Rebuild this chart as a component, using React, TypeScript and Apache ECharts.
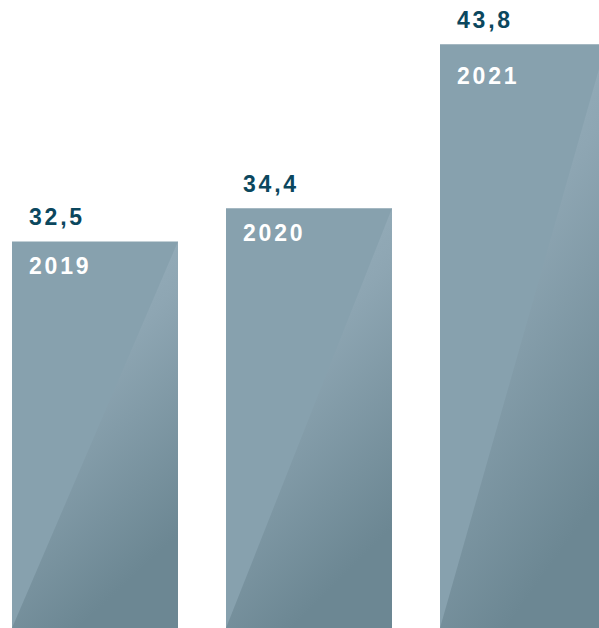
import React, { useEffect, useRef } from "react";
import * as echarts from "echarts";

const years = ["2019", "2020", "2021"];
const values = [32.5, 34.4, 43.8];
const valueLabels = ["32,5", "34,4", "43,8"];

const Y_MIN = 10.34;
const Y_MAX = 46.34;
const yearLabelOffset = [24.5, 25, 31.5];

export default function App() {
  const ref = useRef<HTMLDivElement>(null);

  useEffect(() => {
    if (!ref.current) return;
    const chart = echarts.init(ref.current, null, { renderer: "svg" });
    const textBase = {
      fontSize: 23,
      fontWeight: "bold",
      fontFamily: '"Liberation Sans", Arial, sans-serif',
      align: "left",
      verticalAlign: "middle",
      textAlign: "left",
      textVerticalAlign: "middle",
    };
    chart.setOption({
      animation: false,
      grid: { left: 0, top: 0, right: 0, bottom: 0 },
      xAxis: { type: "category", data: years, show: false },
      yAxis: { type: "value", min: Y_MIN, max: Y_MAX, show: false },
      series: [
        {
          type: "custom",
          clip: false,
          data: values.map((v, i) => [i, v]),
          renderItem: (params: any, api: any) => {
            const idx = params.dataIndex;
            const top = api.coord([api.value(0), api.value(1)]);
            const base = api.coord([api.value(0), Y_MIN]);
            const bandW = api.size([1, 0])[0];
            const w = (bandW * 166) / 214;
            const x0 = top[0] - w / 2;
            const x1 = x0 + w;
            const yT = top[1];
            const yB = base[1];
            return {
              type: "group",
              children: [
                {
                  type: "rect",
                  shape: { x: x0, y: yT, width: w, height: yB - yT },
                  style: { fill: "#87a1ae" },
                },
                {
                  type: "polygon",
                  shape: { points: [[x0, yB], [x1, yT], [x1, yB]] },
                  style: {
                    fill: new echarts.graphic.LinearGradient(0, 0, 0.4, 1, [
                      { offset: 0, color: "#9fb7c4" },
                      { offset: 0.45, color: "#8ea6b3" },
                      { offset: 1, color: "#6c8793" },
                    ]),
                  },
                },
                {
                  type: "text",
                  x: x0 + 17,
                  y: yT - 24.5,
                  style: { ...textBase, text: valueLabels[idx], fill: "#0b475e" },
                },
                {
                  type: "text",
                  x: x0 + 17,
                  y: yT + yearLabelOffset[idx],
                  style: { ...textBase, text: years[idx], fill: "#ffffff" },
                },
              ],
            };
          },
        },
      ],
    });
    return () => chart.dispose();
  }, []);

  return (
    <>
      <style>{`.bar-chart text { letter-spacing: 2.8px; }`}</style>
      <div
        style={{ position: "absolute", left: 0, top: 0, width: 599, height: 628, overflow: "hidden" }}
      >
        <div
          ref={ref}
          className="bar-chart"
          style={{ position: "absolute", left: -12, top: 0, width: 642, height: 628 }}
        />
      </div>
    </>
  );
}
